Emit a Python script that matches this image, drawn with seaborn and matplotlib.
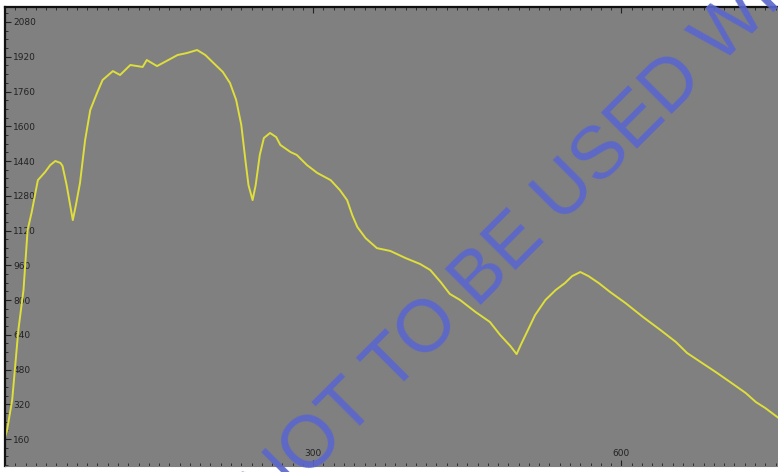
import matplotlib
matplotlib.use("Agg")
import matplotlib.pyplot as plt
from matplotlib.ticker import MultipleLocator
import seaborn as sns
import pandas as pd

# Data
wavelength = [0, 2, 7, 13, 18, 22, 26, 32, 39, 44, 49, 54, 56, 60, 66, 69, 73, 78, 83, 90,
              95, 105, 112, 122, 134, 138, 148, 159, 168, 177, 187, 195, 203, 212, 219, 225,
              230, 234, 237, 241, 244, 248, 252, 258, 264, 268, 278, 284, 294, 304, 317, 326,
              333, 338, 343, 351, 362, 375, 390, 404, 414, 424, 433, 443, 458, 472, 482, 492,
              498, 502, 509, 516, 526, 536, 545, 552, 560, 568, 578, 589, 604, 621, 638, 653,
              664, 677, 692, 706, 721, 731, 740, 753]
intensity = [169, 201, 340, 662, 846, 1122, 1205, 1352, 1389, 1421, 1440, 1431, 1417, 1329,
             1168, 1237, 1339, 1537, 1675, 1758, 1813, 1854, 1836, 1882, 1873, 1905, 1877, 1905,
             1928, 1937, 1951, 1928, 1891, 1850, 1799, 1721, 1606, 1444, 1329, 1260, 1329, 1468,
             1546, 1569, 1550, 1514, 1481, 1468, 1421, 1385, 1352, 1306, 1260, 1191, 1136, 1085,
             1039, 1026, 993, 966, 938, 883, 828, 800, 745, 699, 639, 588, 551, 593, 662, 731,
             800, 846, 878, 910, 929, 910, 878, 837, 786, 722, 662, 607, 556, 515, 468, 422, 372,
             330, 303, 257]
y_ticks = [160, 320, 480, 640, 800, 960, 1120, 1280, 1440, 1600, 1760, 1920, 2080]
x_ticks = [300, 600]
watermark = "NOT TO BE USED WITHOUT PERMISSION"

df = pd.DataFrame({"x": wavelength, "y": intensity})

sns.set_style("ticks")
plt.rcParams["font.family"] = ["DejaVu Sans"]

fig = plt.figure(figsize=(7.78, 4.72), dpi=100)
fig.patch.set_facecolor("white")
ax = fig.add_axes([5 / 778, 6 / 472, 1 - 5 / 778 + 0.01, 1 - 13 / 472])
ax.set_facecolor("#808080")

sns.lineplot(data=df, x="x", y="y", ax=ax, color="#dede3c", linewidth=1.4)

ax.set_xlim(0, 760)
ax.set_ylim(36, 2149)
ax.set_xlabel("")
ax.set_ylabel("")

ax.set_yticks(y_ticks)
ax.set_yticklabels([str(v) for v in y_ticks])
ax.yaxis.set_minor_locator(MultipleLocator(40))
ax.set_xticks(x_ticks)
ax.set_xticklabels([str(v) for v in x_ticks])
ax.xaxis.set_minor_locator(MultipleLocator(10))

ax.tick_params(axis="y", which="major", direction="in", length=4, width=0.8,
               pad=-6, labelsize=6.5, labelcolor="#222222", colors="#222222")
ax.tick_params(axis="y", which="minor", direction="in", length=2, width=0.6, colors="#222222")
ax.tick_params(axis="x", which="major", direction="in", length=4, width=0.8,
               pad=-12, labelsize=6.5, labelcolor="#222222", colors="#222222",
               top=True)
ax.tick_params(axis="x", which="minor", direction="in", length=2, width=0.6,
               colors="#222222", top=True)
for lbl in ax.get_yticklabels():
    lbl.set_horizontalalignment("left")

for side in ["left", "top"]:
    ax.spines[side].set_color("#111111")
    ax.spines[side].set_linewidth(1.6)
for side in ["right", "bottom"]:
    ax.spines[side].set_color("#808080")
    ax.spines[side].set_linewidth(0.8)

fig.text(268.7 / 778, (472 - 516.9) / 472, watermark, transform=fig.transFigure,
         rotation=45, rotation_mode="anchor", ha="left", va="baseline",
         fontsize=53, color="#5b66cc", alpha=0.92,
         family=["Liberation Sans", "DejaVu Sans"])

fig.savefig("out.png", dpi=100, facecolor="white")
